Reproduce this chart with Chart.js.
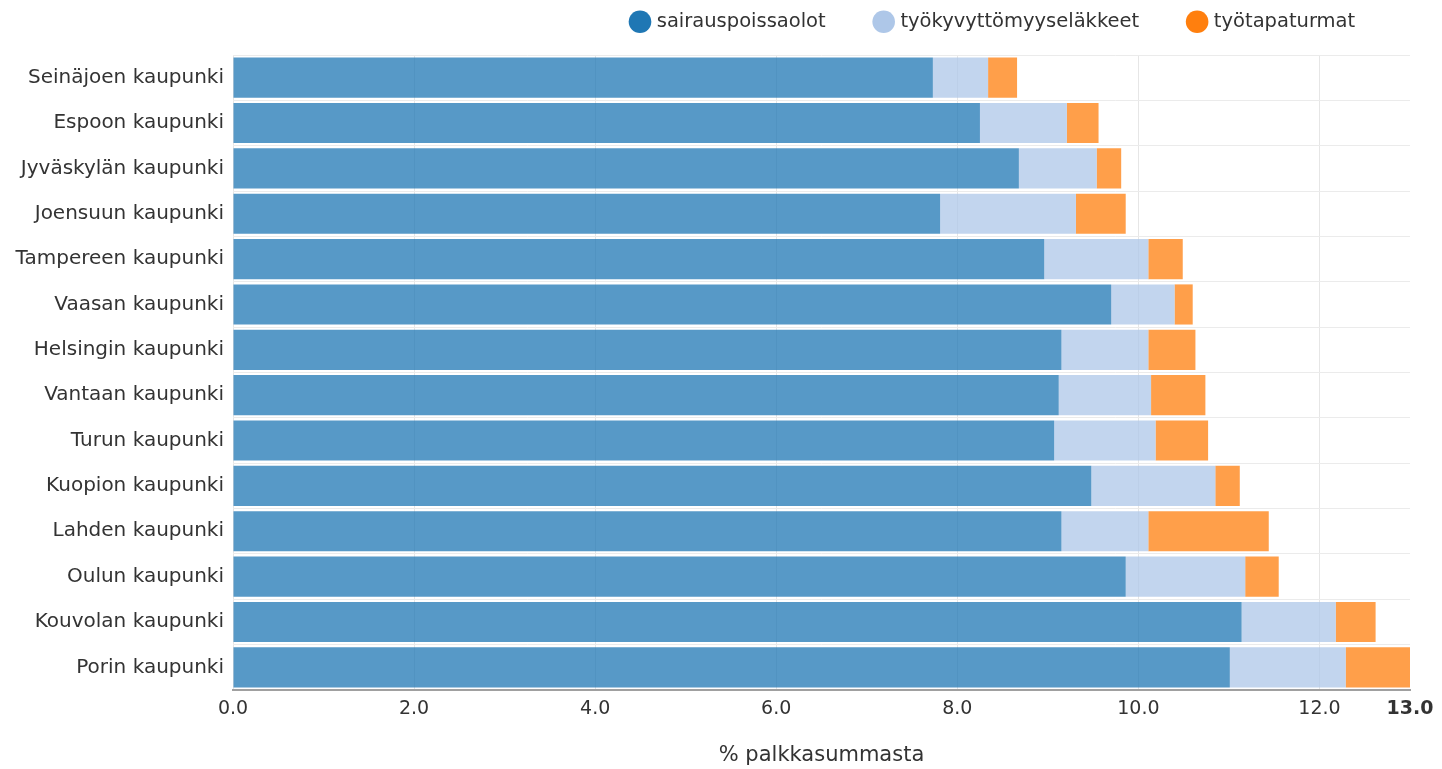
<!DOCTYPE html>
<html>
<head>
<meta charset="utf-8">
<script src="https://cdn.jsdelivr.net/npm/chart.js@4"></script>
<style>
html,body{margin:0;padding:0;background:#fff;}
canvas{display:block;}
</style>
</head>
<body>
<canvas id="c" width="1442" height="769"></canvas>
<script>
const categories = [
  "Seinäjoen kaupunki","Espoon kaupunki","Jyväskylän kaupunki","Joensuun kaupunki",
  "Tampereen kaupunki","Vaasan kaupunki","Helsingin kaupunki","Vantaan kaupunki",
  "Turun kaupunki","Kuopion kaupunki","Lahden kaupunki","Oulun kaupunki",
  "Kouvolan kaupunki","Porin kaupunki"
];
const sairauspoissaolot        = [7.73, 8.25, 8.68, 7.81, 8.96, 9.70, 9.15, 9.12, 9.07, 9.48, 9.15, 9.86, 11.14, 11.01];
const tyokyvyttomyyselakkeet   = [0.61, 0.96, 0.86, 1.50, 1.15, 0.70, 0.96, 1.02, 1.12, 1.37, 0.96, 1.32, 1.04, 1.28];
const tyotapaturmat            = [0.32, 0.35, 0.27, 0.55, 0.38, 0.20, 0.52, 0.60, 0.58, 0.27, 1.33, 0.37, 0.44, 0.71];
const seriesNames = ["sairauspoissaolot","työkyvyttömyyseläkkeet","työtapaturmat"];
const xTicks = [0, 2, 4, 6, 8, 10, 12, 13];
const axisTitle = "% palkkasummasta";

const FONT = "'DejaVu Sans', Verdana, sans-serif";
const solid = ["#1f77b4", "#aec7e8", "#ff7f0e"];
const fills = ["rgba(31,119,180,0.75)", "rgba(174,199,232,0.75)", "rgba(255,127,14,0.75)"];

const legendPlace = {
  id: 'legendPlace',
  afterInit(chart) {
    const lg = chart.legend;
    lg.fit = function () {
      Object.getPrototypeOf(this).fit.call(this);
      this.height = 55;
    };
  },
  afterLayout(chart) {
    const l = chart.legend;
    const dx = 582 - l.left;
    l.left += dx; l.right += dx;
    l.top = -39;
  }
};

new Chart(document.getElementById('c'), {
  type: 'bar',
  data: {
    labels: categories,
    datasets: [
      { label: seriesNames[0], data: sairauspoissaolot, backgroundColor: fills[0] },
      { label: seriesNames[1], data: tyokyvyttomyyselakkeet, backgroundColor: fills[1] },
      { label: seriesNames[2], data: tyotapaturmat, backgroundColor: fills[2] }
    ]
  },
  plugins: [legendPlace],
  options: {
    indexAxis: 'y',
    responsive: false,
    animation: false,
    devicePixelRatio: 1,
    layout: { padding: { left: 0, right: 32, top: 0, bottom: 0 } },
    datasets: { bar: { barPercentage: 0.885, categoryPercentage: 1.0, borderWidth: 0 } },
    plugins: {
      tooltip: { enabled: false },
      legend: {
        position: 'top',
        align: 'start',
        labels: {
          font: { family: FONT, size: 19.5 },
          color: '#333',
          usePointStyle: true,
          pointStyle: 'circle',
          boxWidth: 14,
          boxHeight: 16,
          padding: 51,
          generateLabels(chart) {
            const items = Chart.defaults.plugins.legend.labels.generateLabels(chart);
            items.forEach((it, i) => { it.fillStyle = solid[i]; it.strokeStyle = solid[i]; it.lineWidth = 0; });
            return items;
          }
        }
      }
    },
    scales: {
      x: {
        stacked: true,
        min: 0,
        max: 13,
        afterBuildTicks(scale) { scale.ticks = xTicks.map(v => ({ value: v })); },
        afterFit(scale) { scale.height = 79; },
        grid: {
          drawTicks: false,
          color(c) { return (c.tick && c.tick.value === 13) ? 'rgba(0,0,0,0)' : '#e6e6e6'; }
        },
        border: { display: true, color: '#a0a0a0', width: 2 },
        ticks: {
          padding: 8,
          color: '#333',
          maxRotation: 0,
          autoSkip: false,
          font(c) {
            const bold = c.tick && c.tick.value === 13;
            return { family: FONT, size: 19, weight: bold ? 'bold' : 'normal' };
          },
          callback(v) { return Number(v).toFixed(1); }
        },
        title: {
          display: true,
          text: axisTitle,
          color: '#333',
          font: { family: FONT, size: 21 },
          padding: { top: 0, bottom: 1 }
        }
      },
      y: {
        stacked: true,
        afterFit(scale) { scale.width = 233; },
        grid: { color: '#ebebeb', drawTicks: false, offset: true },
        border: { display: false },
        ticks: {
          padding: 9,
          color: '#333',
          autoSkip: false,
          font: { family: FONT, size: 20 }
        }
      }
    }
  }
});
</script>
</body>
</html>
